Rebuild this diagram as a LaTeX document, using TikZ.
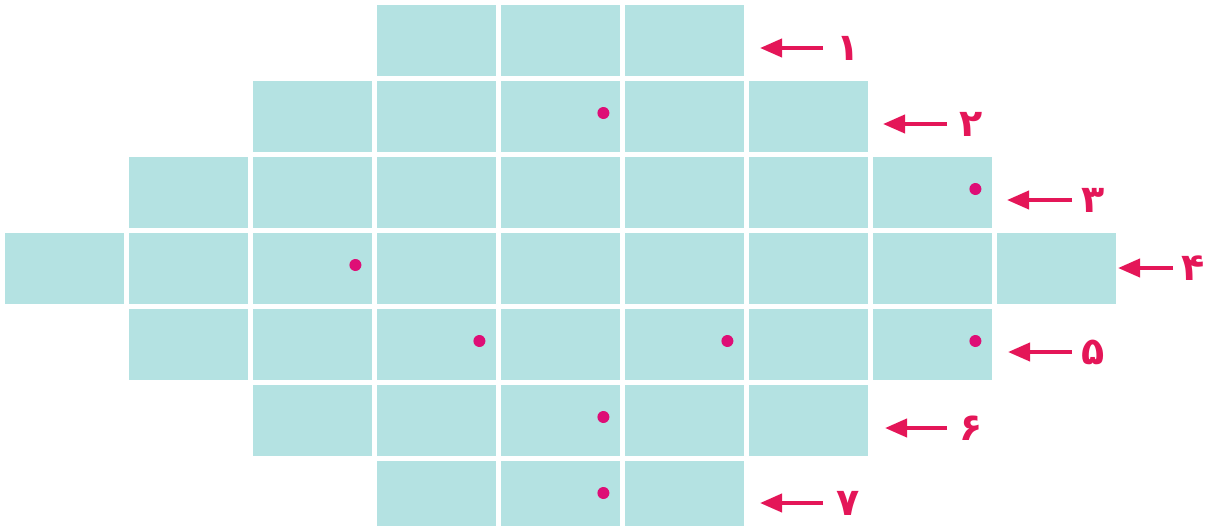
\documentclass[tikz,border=0pt]{standalone}
\usepackage{fontspec}
\newfontfamily\arabicfont[Script=Arabic]{DejaVu Sans}
\usetikzlibrary{arrows.meta}
\definecolor{cellfill}{RGB}{180,226,226}
\definecolor{arrred}{RGB}{228,22,88}
\definecolor{dotmag}{RGB}{222,14,118}
\tikzset{
  cellbox/.style={fill=cellfill, draw=none, inner sep=0pt, anchor=north west,
    minimum width=119pt, minimum height=71pt},
  lastcell/.style={cellbox, minimum height=65pt},
  markdot/.style={circle, fill=dotmag, draw=none, inner sep=0pt, minimum size=12pt},
  rowarrow/.style={draw=arrred, line width=4pt, -{Triangle[length=22pt,width=18pt]}},
  rowlabel/.style={text=arrred, font=\arabicfont\bfseries\fontsize{38}{38}\selectfont, inner sep=0pt}
}
\begin{document}
\begin{tikzpicture}[x=1pt,y=-1pt]
\useasboundingbox (0,0) rectangle (1205,528);
% cells
\foreach \r/\top/\cfrom/\cto in {1/5/4/6, 2/81/3/7, 3/157/2/8, 4/233/1/9, 5/309/2/8, 6/385/3/7}{
  \foreach \c in {\cfrom,...,\cto}{
    \node[cellbox] (c\r-\c) at ({5+124*(\c-1)},\top) {};
  }
}
\foreach \c in {4,5,6}{
  \node[lastcell] (c7-\c) at ({5+124*(\c-1)},461) {};
}
% dots
\foreach \r/\c [count=\i] in {2/5, 3/8, 4/3, 5/4, 5/6, 5/8, 6/5, 7/5}{
  \node[markdot, xshift=-17pt, yshift=-32pt] (d\i) at (c\r-\c.north east) {};
}
% labels and arrows
\foreach \r/\y/\tail/\tip/\lx/\digit in {
  1/48/823/760/848/۱,
  2/124/947/883/971/۲,
  3/200/1072/1007/1093/۳,
  4/268/1173/1118/1193/۴,
  5/352/1072/1008/1093/۵,
  6/428/947/885/971/۶,
  7/503/823/760/848/۷}{
  \node[rowlabel] (l\r) at (\lx,\y) {\digit};
  \coordinate (t\r) at (\tail,\y);
  \coordinate (h\r) at (\tip,\y);
  \draw[rowarrow] (t\r) -- (h\r);
}
\end{tikzpicture}
\end{document}
